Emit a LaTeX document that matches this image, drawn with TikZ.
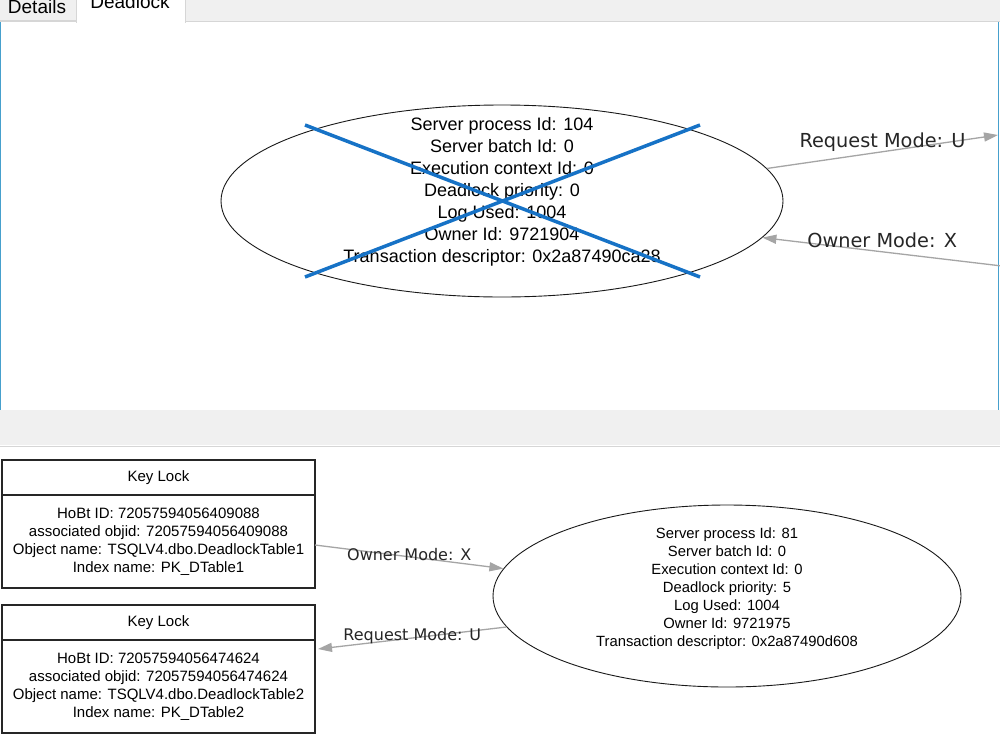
\documentclass[tikz,border=0pt]{standalone}
\usepackage{fontspec}
\setmainfont{Liberation Sans}
\newfontfamily\labelfont{DejaVu Sans}
\usetikzlibrary{shapes.geometric, arrows.meta, positioning}

\definecolor{tabgray}{RGB}{240,240,240}
\definecolor{tabline}{RGB}{214,214,214}
\definecolor{panelblue}{RGB}{70,160,205}
\definecolor{crossblue}{RGB}{22,114,198}
\definecolor{edgegray}{RGB}{165,165,165}

\begin{document}
\begin{tikzpicture}[x=1pt, y=-1pt,
    proc/.style={ellipse, draw=black!90, line width=0.9pt, inner sep=0pt},
    bigtxt/.style={align=center, inner sep=0pt, font=\fontsize{18}{22}\selectfont},
    smalltxt/.style={align=center, inner sep=0pt, font=\fontsize{14.8}{18}\selectfont},
    keyhead/.style={rectangle, draw=black!85, line width=1.4pt, outer sep=0pt, minimum width=313pt, minimum height=35pt, inner sep=0pt, font=\fontsize{15}{18}\selectfont},
    keybody/.style={rectangle, draw=black!85, line width=1.4pt, outer sep=0pt, minimum width=313pt, minimum height=93pt, inner sep=0pt, align=center, font=\fontsize{15}{18}\selectfont},
    conn/.style={edgegray, line width=1.3pt, -{Triangle[length=14pt,width=9pt]}},
    bigedge/.style={black!85, inner sep=0pt, font=\labelfont\fontsize{19.3}{22}\selectfont},
    smalledge/.style={black!85, inner sep=0pt, font=\labelfont\fontsize{16}{18}\selectfont},
    tabtxt/.style={anchor=base, inner sep=0pt, font=\fontsize{19}{22}\selectfont},
    xline/.style={crossblue, line width=3.5pt},
]
\useasboundingbox (0,0) rectangle (1000,750);
\clip (0,0) rectangle (1000,750);
\fill[white] (0,0) rectangle (1000,750);

% tab strip
\fill[tabgray] (0,0) rectangle (1000,22);
\draw[tabline] (0,21.5) -- (1000,21.5);
\draw[tabline, fill=tabgray] (-1,-2) rectangle (76,20.5);
\draw[tabline, fill=white] (76,-2) -- (76,22) -- (185,22) -- (185,-2);
\fill[white] (76.5,-2) rectangle (184.5,23);
\node[tabtxt] (details) at (37,13.5) {Details};
\node[tabtxt] (deadlock) at (130,8) {Deadlock};

% upper panel frame
\draw[panelblue, line width=1.2pt] (0.8,22) -- (0.8,410);
\draw[panelblue, line width=1.2pt] (998.6,22) -- (998.6,410);

% splitter
\fill[tabgray] (0,410) rectangle (1000,445);
\draw[tabline, line width=1pt] (0,446) -- (1000,446);

% victim process
\node[proc, minimum width=562pt, minimum height=192pt,
      label={[bigtxt, yshift=9pt]center:{Server process Id: 104\\Server batch Id: 0\\Execution context Id: 0\\Deadlock priority: 0\\Log Used: 1004\\Owner Id: 9721904\\Transaction descriptor: 0x2a87490ca28}}] (spid104) at (502,201) {};
\draw[xline] ([shift={(-197,-76)}]spid104.center) -- ([shift={(198,76)}]spid104.center);
\draw[xline] ([shift={(198,-76)}]spid104.center) -- ([shift={(-197,76)}]spid104.center);

\coordinate (rqout) at (998,135);
\coordinate (owin) at (1002,266);
\draw[conn] (spid104.7) -- node[bigedge, midway, yshift=10pt] {Request Mode: U} (rqout);
\draw[conn] (owin) -- node[bigedge, midway, yshift=11pt] {Owner Mode: X} (spid104.-8);

% key locks
\node[keyhead] (k1head) at (158.5,477.5) {Key Lock};
\node[keybody, below=0pt of k1head] (k1) {\raisebox{2.5pt}{\parbox{313pt}{\centering HoBt ID: 72057594056409088\\associated objid: 72057594056409088\\Object name: TSQLV4.dbo.DeadlockTable1\\Index name: PK\_DTable1}}};
\node[keyhead] (k2head) at (158.5,622.5) {Key Lock};
\node[keybody, below=0pt of k2head] (k2) {\raisebox{2.5pt}{\parbox{313pt}{\centering HoBt ID: 72057594056474624\\associated objid: 72057594056474624\\Object name: TSQLV4.dbo.DeadlockTable2\\Index name: PK\_DTable2}}};

% surviving process
\node[proc, minimum width=468pt, minimum height=182pt,
      label={[smalltxt, yshift=7pt]center:{Server process Id: 81\\Server batch Id: 0\\Execution context Id: 0\\Deadlock priority: 5\\Log Used: 1004\\Owner Id: 9721975\\Transaction descriptor: 0x2a87490d608}}] (spid81) at (727,596) {};

\draw[conn] ([yshift=-3.5pt]k1.east) -- node[smalledge, midway, yshift=2pt] {Owner Mode: X} (spid81.173);
\draw[conn] (spid81.188) -- node[smalledge, midway, yshift=2pt] {Request Mode: U} ([xshift=3pt, yshift=-9pt]k2.north east);
\end{tikzpicture}
\end{document}
